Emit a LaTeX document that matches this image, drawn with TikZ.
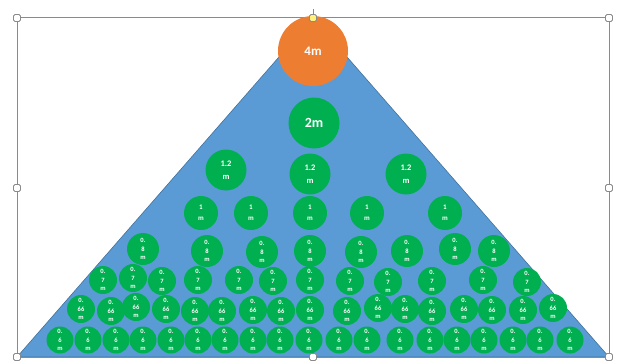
\documentclass[tikz,border=0pt]{standalone}
\usepackage{fontspec}
\setmainfont{Carlito}
\definecolor{triblue}{HTML}{5B9BD5}
\definecolor{triedge}{HTML}{41719C}
\definecolor{ballgreen}{HTML}{00B050}
\definecolor{ballorange}{HTML}{ED7D31}
\definecolor{framegray}{HTML}{8A8A8A}
\definecolor{handleyellow}{HTML}{FFF07A}
\begin{document}
\begin{tikzpicture}[x=1pt,y=-1pt,
  ball/.style={shape=circle,fill=ballgreen,text=white,inner sep=0pt,align=center,font=\bfseries},
  tinyball/.style={ball,minimum size=#1,font=\bfseries\fontsize{6.5}{8.5}\selectfont},
  handle/.style={shape=rectangle,draw=framegray,fill=white,line width=0.8pt,rounded corners=1.5pt,minimum size=7pt,inner sep=0pt}]
 \useasboundingbox (0,0) rectangle (618,361);
 % frame and triangle corners
 \coordinate (tl) at (17,18);
 \coordinate (tm) at (313,18);
 \coordinate (tr) at (609,18);
 \coordinate (ml) at (17,188);
 \coordinate (mr) at (609,188);
 \coordinate (bl) at (17,357);
 \coordinate (bm) at (313,357);
 \coordinate (br) at (609,357);
 \filldraw[fill=triblue,draw=triedge,line width=0.6pt] (bl) -- (tm) -- (br) -- cycle;
 \draw[framegray,line width=1pt] (tl) rectangle (br);
 \draw[framegray,line width=0.8pt] (tm) -- ++(0,-9);
 % top balls
 \node (ball 4) at (313,51) [shape=circle,fill=ballorange,text=white,inner sep=0pt,minimum size=70pt,font=\bfseries\fontsize{13}{13}\selectfont] {4m};
 \node (ball 2) at (314,123) [ball,minimum size=51pt,font=\bfseries\fontsize{14}{14}\selectfont] {2m};
 \node (ball 12a) at (226,170) [ball,minimum size=41pt,font=\bfseries\fontsize{8.5}{13}\selectfont] {1.2\\m};
 \node (ball 12b) at (310,174) [ball,minimum size=41pt,font=\bfseries\fontsize{8.5}{13}\selectfont] {1.2\\m};
 \node (ball 12c) at (406,174) [ball,minimum size=41pt,font=\bfseries\fontsize{8.5}{13}\selectfont] {1.2\\m};
 % 1m row
 \foreach \x [count=\i] in {201,251,310,367,445}
  \node (ball 1-\i) at (\x,213) [ball,minimum size=34pt,font=\bfseries\fontsize{7}{11}\selectfont] {1\\m};
 % 0.8m row
 \foreach \x/\y [count=\i] in {143/249,207/251,262/252,310/251,361/252,407/251,455/249,494/251}
  \node (ball 08-\i) at (\x,\y) [tinyball=32pt] {0.\\8\\m};
 % 0.7m row
 \foreach \x/\y [count=\i] in {103/280,133/278,162/281,198/280,239/280,273/281,310/280,350/281,388/282,432/281,483/280,527/282}
  \node (ball 07-\i) at (\x,\y) [tinyball=28pt] {0.\\7\\m};
 % 0.66m row
 \foreach \x/\y [count=\i] in {81/309,111/311,136/307,166/309,195/311,222/311,253/310,281/311,310/310,347/311,378/308,405/309,432/311,464/309,492/310,523/310,553/308}
  \node (ball 066-\i) at (\x,\y) [tinyball=28pt] {0.\\66\\m};
 % 0.6m row
 \foreach \x [count=\i] in {60,88,116,143,171,198,225,253,280,309,339,367,400,430,457,484,513,540,570}
  \node (ball 06-\i) at (\x,340) [tinyball=27pt] {0.\\6\\m};
 % selection handles
 \node (hnd tl) at (tl) [handle] {};
 \node (hnd tm) at (tm) [handle,fill=handleyellow] {};
 \node (hnd tr) at (tr) [handle] {};
 \node (hnd ml) at (ml) [handle] {};
 \node (hnd mr) at (mr) [handle] {};
 \node (hnd bl) at (bl) [handle] {};
 \node (hnd bm) at (bm) [handle] {};
 \node (hnd br) at (br) [handle] {};
\end{tikzpicture}
\end{document}
